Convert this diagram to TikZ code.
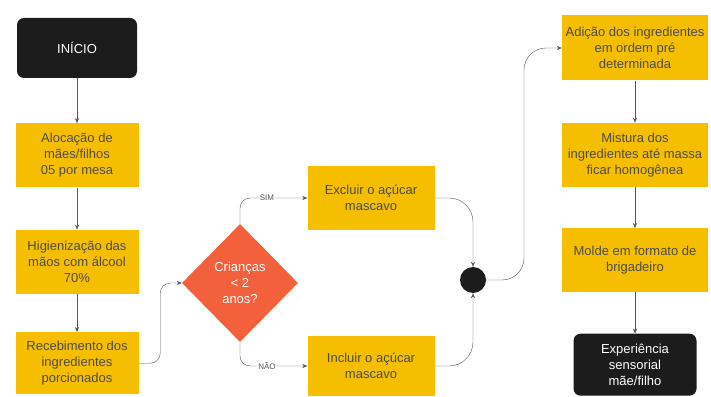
\documentclass[tikz,border=0pt]{standalone}
\usepackage{fontspec}
\setmainfont{Liberation Sans}
\usetikzlibrary{calc}
\usetikzlibrary{shapes.geometric, arrows.meta, positioning}
\definecolor{boxyellow}{HTML}{F5BF00}
\definecolor{deciorange}{HTML}{F2603C}
\definecolor{darkbox}{HTML}{1C1C1C}
\definecolor{linegray}{HTML}{555555}
\tikzset{
terminal/.style = {rectangle, rounded corners=7pt, fill=darkbox, text=white, minimum width=120pt, minimum height=60pt, align=center, font=\fontsize{13}{16}\selectfont},
stepbox/.style = {rectangle, fill=boxyellow, text=black!70, minimum width=123pt, minimum height=64pt, align=center, font=\fontsize{13}{16}\selectfont},
widebox/.style = {stepbox, minimum width=146pt},
decision/.style = {diamond, fill=deciorange, text=white, minimum width=116pt, minimum height=118pt, inner sep=0pt, align=center, font=\fontsize{13}{16}\selectfont},
junction/.style = {circle, fill=darkbox, minimum size=26pt, inner sep=0pt},
arrow/.style = {draw=linegray, thin, -{Stealth[length=5pt, width=4pt]}},
branch/.style = {fill=white, text=linegray, inner sep=1pt, font=\fontsize{8}{9}\selectfont}
}
\begin{document}
\begin{tikzpicture}[x=1pt, y=1pt]
\useasboundingbox (0,0) rectangle (711,396);

\node (start) [terminal] at (77,348) {INÍCIO};
\node (alloc) [stepbox, below=45pt of start] {Alocação de\\mães/filhos\\05 por mesa};
\node (hygiene) [stepbox, below=42pt of alloc] {Higienização das\\mãos com álcool\\70\%};
\node (receive) [stepbox, below=38pt of hygiene, minimum height=62pt] {Recebimento dos\\ingredientes\\porcionados};

\draw [arrow] (start) -- (alloc);
\draw [arrow] (alloc) -- (hygiene);
\draw [arrow] (hygiene) -- (receive);

\node (decide) [decision] at (240,113) {Crianças\\< 2\\anos?};
\draw [arrow, rounded corners=10pt] (receive.east) -| ($(receive.east)!0.5!(decide.west)$) |- (decide.west);

\node (exclude) [stepbox, minimum width=127pt] at (371,198) {Excluir o açúcar\\mascavo};
\node (include) [stepbox, minimum width=127pt, minimum height=60pt] at (371,30) {Incluir o açúcar\\mascavo};
\draw [arrow, rounded corners=10pt] (decide.north) |- node[branch, pos=0.7] {SIM} (exclude.west);
\draw [arrow, rounded corners=10pt] (decide.south) |- node[branch, pos=0.7] {NÃO} (include.west);

\node (merge) [junction] at (473,116) {};
\draw [arrow, rounded corners=24pt] (exclude.east) -| (merge.north);
\draw [arrow, rounded corners=24pt] (include.east) -| (merge.south);

\node (add) [widebox, minimum height=65pt] at (635,348) {Adição dos ingredientes\\em ordem pré\\determinada};
\node (mix) [widebox, below=42pt of add] {Mistura dos\\ingredientes até massa\\ficar homogênea};
\node (shape) [widebox, below=41pt of mix] {Molde em formato de\\brigadeiro};
\node (finish) [terminal, below=41pt of shape, minimum width=123pt, minimum height=62pt] {Experiência\\sensorial\\mãe/filho};

\draw [arrow, rounded corners=22pt] (merge.east) -| ($(merge.east)!0.5!(add.west)$) |- (add.west);
\draw [arrow] (add) -- (mix);
\draw [arrow] (mix) -- (shape);
\draw [arrow] (shape) -- (finish);

\end{tikzpicture}
\end{document}
